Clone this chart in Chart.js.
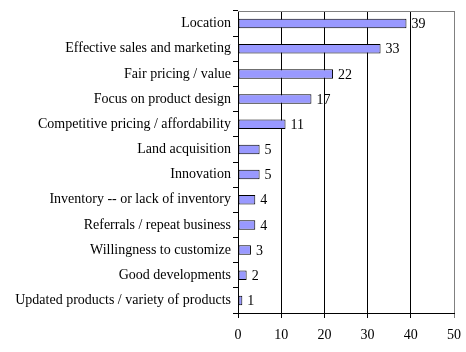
<!DOCTYPE html>
<html>
<head>
<meta charset="utf-8">
<script src="https://cdn.jsdelivr.net/npm/chart.js@4/dist/chart.umd.min.js"></script>
<style>
  html, body { margin:0; padding:0; background:#fff; }
  #wrap { width:466px; height:352px; }
</style>
</head>
<body>
<div id="wrap"><canvas id="c" width="466" height="352"></canvas></div>
<script>
// --- Data ---
const categories = [
  'Location',
  'Effective sales and marketing',
  'Fair pricing / value',
  'Focus on product design',
  'Competitive pricing / affordability',
  'Land acquisition',
  'Innovation',
  'Inventory -- or lack of inventory',
  'Referrals / repeat business',
  'Willingness to customize',
  'Good developments',
  'Updated products / variety of products'
];
const values = [39, 33, 22, 17, 11, 5, 5, 4, 4, 3, 2, 1];
const xTicks = [0, 10, 20, 30, 40, 50];

const FONT = { family: '"Liberation Serif", "Times New Roman", serif', size: 14 };

// --- plot frame top edge (gray, like the right edge) ---
const topEdge = {
  id: 'topEdge',
  beforeDatasetsDraw(chart){
    const { ctx, chartArea: a } = chart;
    ctx.save();
    ctx.strokeStyle = '#808080';
    ctx.lineWidth = 1;
    ctx.beginPath();
    ctx.moveTo(a.left, a.top + 0.5);
    ctx.lineTo(a.right, a.top + 0.5);
    ctx.stroke();
    ctx.restore();
  }
};

// --- value labels at bar ends ---
const valueLabels = {
  id: 'valueLabels',
  afterDatasetsDraw(chart){
    const ctx = chart.ctx;
    ctx.save();
    ctx.font = FONT.size + 'px ' + FONT.family;
    ctx.fillStyle = '#000';
    ctx.textBaseline = 'middle';
    chart.getDatasetMeta(0).data.forEach((bar, i) => {
      ctx.fillText(String(values[i]), bar.x + 5, bar.y + 1);
    });
    ctx.restore();
  }
};

new Chart(document.getElementById('c'), {
  type: 'bar',
  data: {
    labels: categories,
    datasets: [{
      data: values,
      backgroundColor: '#9999FF',
      borderColor: '#000',
      borderWidth: 1,
      borderSkipped: false,
      categoryPercentage: 1,
      barPercentage: 0.38
    }]
  },
  options: {
    indexAxis: 'y',
    responsive: false,
    animation: false,
    layout: { padding: { top: 11, right: 12, left: 0, bottom: 0 } },
    plugins: { legend: { display: false }, tooltip: { enabled: false } },
    scales: {
      x: {
        min: 0, max: 50,
        afterBuildTicks: s => { s.ticks = xTicks.map(v => ({ value: v })); },
        afterFit: s => { s.height = 39; s.paddingLeft = 0; s.paddingRight = 0; },
        grid: {
          color: ctx => ctx.tick && ctx.tick.value === 50 ? '#808080' : '#000',
          lineWidth: 1,
          tickLength: 5
        },
        border: { display: true, color: '#000' },
        ticks: { color: '#000', font: FONT, padding: 9 }
      },
      y: {
        afterFit: s => { s.width = 238; s.paddingTop = 0; s.paddingBottom = 0; },
        grid: { drawOnChartArea: false, offset: true, color: '#000', tickLength: 5 },
        border: { display: true, color: '#000' },
        ticks: { color: '#000', font: FONT, padding: 2, autoSkip: false }
      }
    }
  },
  plugins: [topEdge, valueLabels]
});
</script>
</body>
</html>
